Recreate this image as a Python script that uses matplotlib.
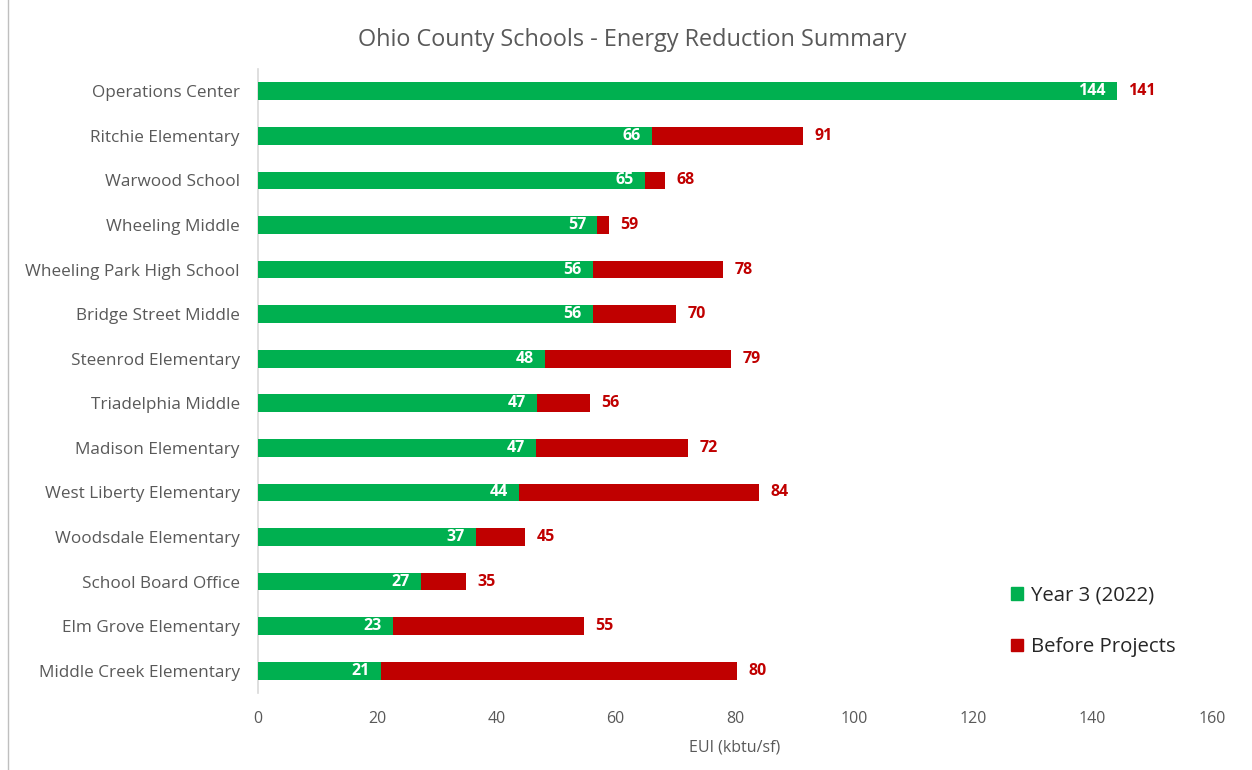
import matplotlib
matplotlib.use("Agg")
import matplotlib.pyplot as plt
from matplotlib.patches import Patch
from matplotlib.lines import Line2D
import numpy as np

schools = ["Operations Center", "Ritchie Elementary", "Warwood School", "Wheeling Middle",
           "Wheeling Park High School", "Bridge Street Middle", "Steenrod Elementary",
           "Triadelphia Middle", "Madison Elementary", "West Liberty Elementary",
           "Woodsdale Elementary", "School Board Office", "Elm Grove Elementary",
           "Middle Creek Elementary"]
year3 = [144.1, 66.1, 64.9, 56.9, 56.2, 56.2, 48.1, 46.8, 46.6, 43.8, 36.6, 27.3, 22.6, 20.6]
before = [141.0, 91.4, 68.3, 58.9, 78.0, 70.1, 79.3, 55.6, 72.1, 84.0, 44.8, 34.9, 54.7, 80.3]

GREEN = "#00B050"
RED = "#C00000"
GRAY = "#595959"

plt.rcParams['font.family'] = ['Open Sans', 'DejaVu Sans']

fig = plt.figure(figsize=(12.52, 7.70), dpi=100)
ax = fig.add_axes([0.2061, 0.1, 0.7619, 0.8104])

y = np.arange(len(schools))
ax.barh(y, before, height=0.4, color=RED, zorder=2)
ax.barh(y, year3, height=0.4, color=GREEN, zorder=3)

for yi, g, b in zip(y, year3, before):
    ax.text(g - 1.9, yi, f"{g:.0f}", ha="right", va="center", color="white",
            fontsize=11.5, fontweight="bold", zorder=4)
    ax.text(max(g, b) + 1.9, yi, f"{b:.0f}", ha="left", va="center", color=RED,
            fontsize=11.5, fontweight="bold", zorder=4)

ax.set_xlim(0, 160)
ax.set_ylim(len(schools) - 0.5, -0.5)
ax.set_xticks(range(0, 161, 20))
ax.set_yticks(y)
ax.set_yticklabels(schools)
ax.tick_params(axis="y", length=0, pad=13, labelsize=12.3, labelcolor=GRAY)
ax.tick_params(axis="x", length=0, pad=13, labelsize=11.5, labelcolor=GRAY)
for s in ["top", "right", "bottom"]:
    ax.spines[s].set_visible(False)
ax.spines["left"].set_color("#D9D9D9")
ax.spines["left"].set_linewidth(1.2)

ax.set_xlabel("EUI (kbtu/sf)", fontsize=11.5, color=GRAY, labelpad=9)
fig.text(0.505, 0.948, "Ohio County Schools - Energy Reduction Summary",
         ha="center", va="center", fontsize=16.9, color=GRAY)

handles = [Patch(color=GREEN, label="Year 3 (2022)"), Patch(color=RED, label="Before Projects")]
fig.legend(handles=handles, loc="center left", bbox_to_anchor=(0.793, 0.193),
           frameon=False, fontsize=14.7, handlelength=0.6, handleheight=0.6,
           handletextpad=0.35, labelspacing=1.55, labelcolor="#262626")

fig.add_artist(Line2D([0.0065, 0.0065], [0.0, 1.0], color="#BFBFBF", linewidth=1))

fig.savefig("out.png", dpi=100)
